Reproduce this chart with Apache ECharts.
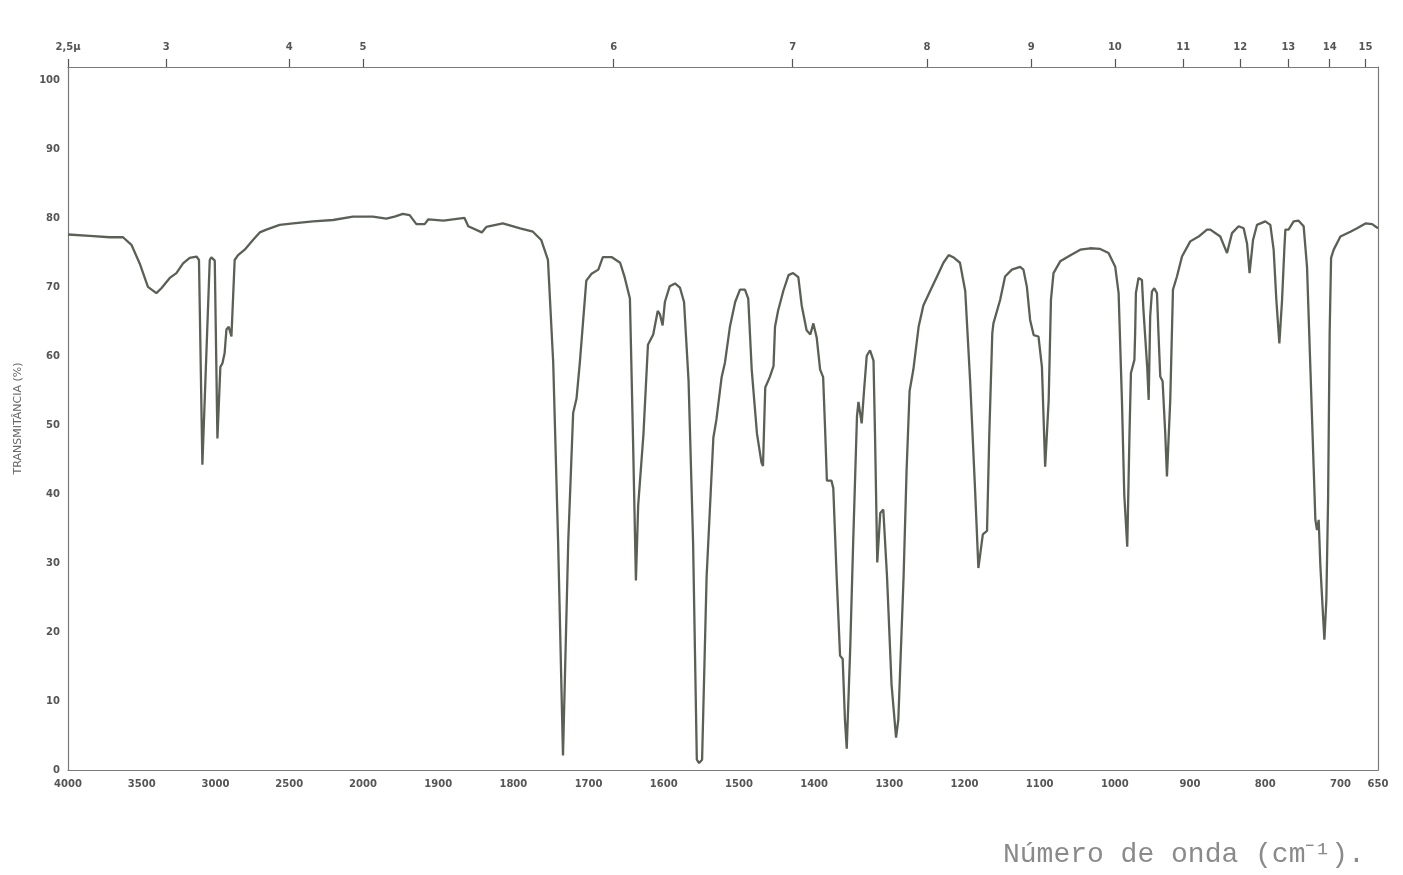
<!DOCTYPE html>
<html><head><meta charset="utf-8">
<script src="https://cdn.jsdelivr.net/npm/echarts@6/dist/echarts.min.js"></script>
<style>html,body{margin:0;padding:0;background:#fff}#c{width:1403px;height:875px}</style>
</head><body><div id="c"></div>
<script>
// wavenumber (cm-1) and transmittance (%), 4000-2000 section
const wnHigh = [4000, 3853, 3717, 3627, 3570, 3514, 3458, 3401, 3367, 3310, 3265, 3220, 3175, 3129, 3112, 3089, 3039, 3028, 3005, 2987, 2967, 2953, 2938, 2926, 2910, 2892, 2870, 2847, 2802, 2746, 2700, 2655, 2565, 2474, 2339, 2203, 2068, 2000];
const tHigh  = [77.7, 77.5, 77.3, 77.3, 76.2, 73.5, 70.1, 69.2, 69.9, 71.4, 72.1, 73.5, 74.3, 74.5, 74.0, 44.3, 74.0, 74.4, 73.9, 48.1, 58.5, 59.0, 60.5, 63.9, 64.3, 62.9, 74.0, 74.7, 75.5, 76.9, 78.0, 78.4, 79.1, 79.3, 79.6, 79.8, 80.3, 80.3];
// 2000-650 section
const wnLow = [2000, 1987, 1969, 1958, 1947, 1938, 1929, 1918, 1913, 1893, 1865, 1860, 1842, 1836, 1814, 1791, 1774, 1763, 1754, 1747, 1740.5, 1734, 1727, 1720.5, 1716, 1711.6, 1703, 1696, 1687, 1681, 1669, 1658, 1652, 1645, 1641, 1637, 1634, 1627, 1621, 1614, 1608, 1605, 1601.5, 1598.5, 1592, 1585, 1578.5, 1573, 1567, 1561, 1556, 1553, 1549, 1543, 1534, 1530, 1523, 1518.6, 1512, 1505, 1498.6, 1492, 1487.6, 1483, 1476, 1470, 1468, 1465, 1459, 1454, 1452, 1448, 1441, 1434, 1428, 1421, 1416.5, 1410, 1405, 1401, 1396.5, 1392, 1388, 1385.5, 1383, 1377, 1374.5, 1370, 1365.5, 1362, 1359, 1356.6, 1352, 1348, 1343, 1341, 1336.7, 1333.6, 1330, 1325.6, 1321, 1319, 1316, 1312, 1308, 1303, 1297, 1291, 1288, 1281, 1277, 1273, 1268, 1261, 1254.7, 1245.7, 1237, 1228, 1221, 1215, 1206, 1199, 1192.5, 1186, 1181.5, 1175.6, 1170, 1167, 1163, 1161.5, 1152.6, 1146, 1137, 1126, 1121.6, 1117, 1112.7, 1108, 1101.6, 1097, 1092.7, 1088, 1085, 1081.6, 1072.7, 1059, 1046, 1033, 1019.5, 1008.4, 999.5, 995, 990.6, 987.5, 983.5, 980.5, 978.6, 974, 973, 972, 968.5, 964, 962, 957, 955, 953, 950.7, 947.6, 944, 942, 939.6, 936.5, 933, 930.7, 926.3, 922.7, 917.4, 910.7, 899.7, 888.6, 877.5, 873, 859.8, 850.8, 844.2, 835.4, 828.7, 824.2, 820.8, 816.2, 810.9, 799.9, 793.2, 788.8, 785.2, 781.2, 777.6, 774.6, 773.2, 768.9, 762.2, 755.6, 748.9, 744.4, 740, 735.6, 733.3, 731.1, 728.9, 726.6, 723, 721.3, 718.7, 716.4, 714.3, 712.4, 708.9, 700, 686.7, 677.8, 666.7, 657.8, 650];
const tLow  = [80.3, 80.3, 80.0, 80.3, 80.7, 80.5, 79.2, 79.2, 79.9, 79.7, 80.1, 78.9, 78.0, 78.8, 79.3, 78.6, 78.1, 76.9, 74.0, 59.1, 33.2, 2.1, 33.2, 51.8, 53.9, 59.1, 71.0, 72.0, 72.6, 74.4, 74.4, 73.6, 71.5, 68.4, 48.7, 27.5, 38.4, 48.7, 61.7, 63.2, 66.6, 66.1, 64.5, 67.9, 70.2, 70.6, 70.0, 67.9, 56.5, 33.2, 1.5, 1.0, 1.5, 28.0, 48.2, 50.8, 57.0, 59.1, 64.3, 67.9, 69.7, 69.7, 68.4, 58.1, 48.8, 44.6, 44.1, 55.5, 57.0, 58.6, 64.3, 66.6, 69.5, 71.8, 72.1, 71.5, 67.4, 63.8, 63.2, 64.8, 62.7, 58.1, 57.0, 49.8, 42.0, 42.0, 40.9, 28.0, 16.6, 16.1, 7.3, 3.1, 17.6, 33.2, 51.3, 53.4, 50.3, 55.0, 60.1, 60.9, 59.4, 48.7, 30.1, 37.3, 37.8, 28.0, 12.4, 4.7, 7.3, 28.0, 43.5, 55.0, 58.1, 64.3, 67.4, 69.5, 71.5, 73.6, 74.7, 74.4, 73.6, 69.5, 56.5, 40.9, 29.3, 34.2, 34.7, 48.7, 63.4, 64.8, 68.2, 71.6, 72.6, 73.0, 72.6, 70.1, 65.3, 63.1, 62.9, 58.5, 44.0, 53.7, 68.2, 72.1, 73.8, 74.7, 75.5, 75.7, 75.6, 75.0, 73.0, 69.2, 53.7, 40.0, 32.4, 48.9, 57.6, 59.5, 63.4, 69.2, 71.4, 71.1, 66.8, 58.5, 53.7, 65.8, 69.4, 69.9, 69.2, 63.4, 57.1, 56.4, 48.9, 42.6, 53.7, 69.7, 71.6, 74.5, 76.7, 77.4, 78.4, 78.4, 77.4, 75.0, 77.9, 78.9, 78.6, 76.4, 72.1, 76.9, 79.1, 79.6, 79.1, 75.5, 68.2, 61.9, 68.2, 75.5, 78.4, 78.4, 79.6, 79.7, 78.9, 73.0, 58.5, 44.0, 36.3, 34.8, 36.3, 29.5, 22.2, 18.9, 24.7, 39.2, 63.4, 74.3, 75.5, 77.4, 78.1, 78.6, 79.3, 79.2, 78.6];

// tick labels
const yTicks = [0, 10, 20, 30, 40, 50, 60, 70, 80, 90, 100];
const bottomTicksHigh = [4000, 3500, 3000, 2500, 2000];
const bottomTicksLow = [1900, 1800, 1700, 1600, 1500, 1400, 1300, 1200, 1100, 1000, 900, 800, 700, 650];
const micronHigh = [2.5, 3, 4, 5];
const micronLow = [6, 7, 8, 9, 10, 11, 12, 13, 14, 15];

const zip = (a, b) => a.map((v, i) => [v, b[i]]);
const axisCol = '#7a7a7a';
const txtCol = '#555';
const lblFont = { fontSize: 10, fontWeight: 'bold', color: txtCol, fontFamily: 'DejaVu Sans' };

function bottomAxis(grid, min, max, ticks) {
  return {
    type: 'value', gridIndex: grid, position: 'bottom', min: min, max: max, inverse: true,
    axisLine: { show: true, lineStyle: { color: axisCol, width: 1.2 } },
    axisTick: { show: false }, splitLine: { show: false },
    axisLabel: Object.assign({ customValues: ticks, margin: 9, formatter: v => String(v) }, lblFont)
  };
}
function topAxis(grid, min, max, microns) {
  const vals = microns.map(m => 10000 / m);
  return {
    type: 'value', gridIndex: grid, position: 'top', min: min, max: max, inverse: true,
    axisLine: { show: true, lineStyle: { color: axisCol, width: 1.2 } },
    axisTick: { show: true, customValues: vals, length: 8, inside: false, lineStyle: { color: '#555', width: 1.2 } },
    splitLine: { show: false },
    axisLabel: Object.assign({
      customValues: vals, margin: 15,
      formatter: v => { const m = Math.round(10000 / v * 10) / 10; return m === 2.5 ? '2,5\u03bc' : String(m); }
    }, lblFont)
  };
}

const chart = echarts.init(document.getElementById('c'), null, { renderer: 'canvas' });
chart.setOption({
  animation: false,
  backgroundColor: '#ffffff',
  grid: [
    { left: 68, top: 67, width: 295, height: 703 },
    { left: 363, top: 67, width: 1015, height: 703 }
  ],
  title: {
    text: 'Número de onda (cm⁻¹).',
    left: 998, top: 836,
    textStyle: { fontFamily: 'Liberation Mono', fontSize: 28, fontWeight: 'normal', color: '#8a8a8a' }
  },
  xAxis: [
    bottomAxis(0, 2000, 4000, bottomTicksHigh),
    bottomAxis(1, 650, 2000, bottomTicksLow),
    topAxis(0, 2000, 4000, micronHigh),
    topAxis(1, 650, 2000, micronLow)
  ],
  yAxis: [
    {
      type: 'value', gridIndex: 0, min: 0, max: 102, position: 'left',
      name: 'TRANSMITÂNCIA (%)', nameLocation: 'middle', nameGap: 44, nameRotate: 90,
      nameTextStyle: { fontSize: 11, color: '#666', fontFamily: 'DejaVu Sans' },
      axisLine: { show: true, lineStyle: { color: axisCol, width: 1.2 } },
      axisTick: { show: false }, splitLine: { show: false },
      axisLabel: Object.assign({ customValues: yTicks, margin: 8 }, lblFont)
    },
    {
      type: 'value', gridIndex: 1, min: 0, max: 102, position: 'right',
      axisLine: { show: true, lineStyle: { color: axisCol, width: 1.2 } },
      axisTick: { show: false }, splitLine: { show: false }, axisLabel: { show: false }
    }
  ],
  series: [
    {
      type: 'line', xAxisIndex: 0, yAxisIndex: 0, data: zip(wnHigh, tHigh),
      showSymbol: false, lineStyle: { color: '#5b6057', width: 2.3 }, silent: true
    },
    {
      type: 'line', xAxisIndex: 1, yAxisIndex: 1, data: zip(wnLow, tLow),
      showSymbol: false, lineStyle: { color: '#5b6057', width: 2.3 }, silent: true
    }
  ]
});
</script>
</body></html>
